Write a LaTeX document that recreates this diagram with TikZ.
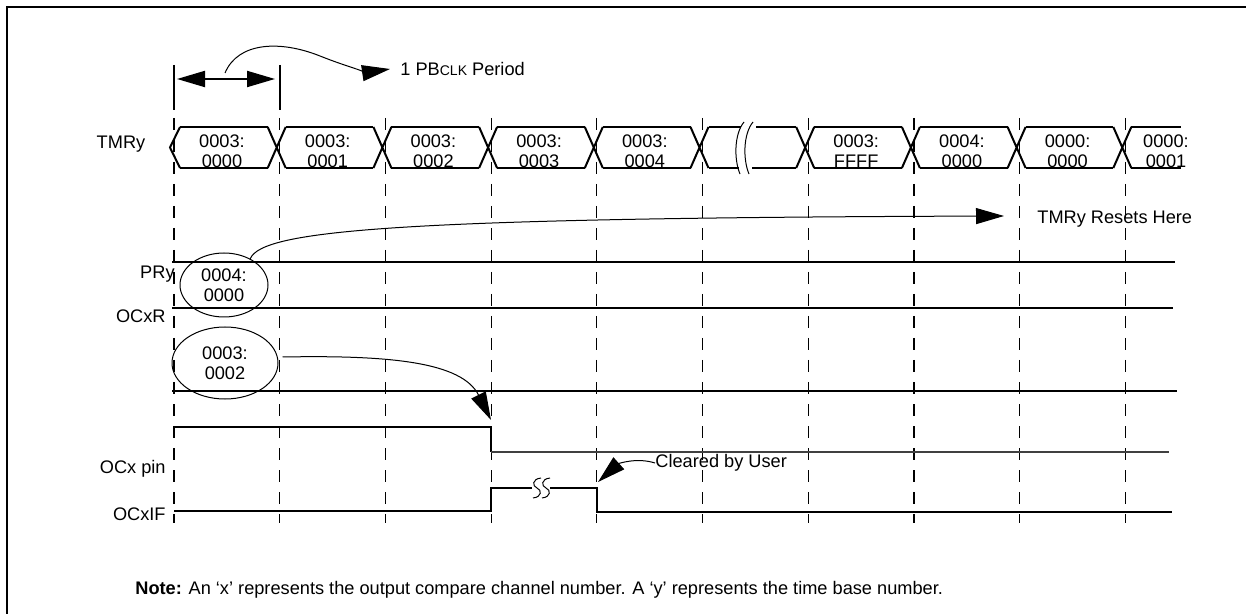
\documentclass[tikz,border=0pt]{standalone}
\usepackage{fontspec}
\setmainfont{Liberation Sans}
\usetikzlibrary{arrows.meta,positioning,shapes.geometric}

\begin{document}
\begin{tikzpicture}[x=0.5pt,y=-0.5pt,
  sig/.style={line width=1pt},
  lowsig/.style={line width=0.6pt,black!75},
  grid/.style={line width=0.6pt,dash pattern=on 6pt off 5pt},
  wire/.style={line width=0.5pt},
  txt/.style={font=\fontsize{9.1}{10}\selectfont,inner sep=0pt},
  val/.style={txt,align=center,font=\fontsize{9.1}{9.8}\selectfont},
  oval/.style={ellipse,draw,line width=0.5pt,val,inner sep=0pt},
  big/.style={wire,-{Triangle[length=14pt,width=8pt]}},
  bigboth/.style={line width=1pt,{Triangle[length=14pt,width=8pt]}-{Triangle[length=14pt,width=8pt]}}]
  \useasboundingbox (0,0) rectangle (1246,614);
  % frame
  \draw[line width=1pt] (7,614) -- (7,7) -- (1246,7);

  % clock grid
  \foreach \i in {0,...,9}
    \draw[grid] ({174+105.7*\i},118) -- ({174+105.7*\i},523);

  % period marker
  \draw[sig] (174,65) -- (174,110);
  \draw[sig] (280,65) -- (280,110);
  \coordinate (pl) at (177,79);
  \coordinate (pr) at (275,79);
  \draw[bigboth] (pl) -- (pr);
  \node[txt,anchor=west] (pb) at (400,69) {1 PB{\fontsize{7}{8}\selectfont CLK} Period};
  \coordinate (pbs) at (225,73);
  \draw[big] (pbs) .. controls (238,42) and (280,40) .. (320,56)
    .. controls (350,68) and (370,72) .. ([xshift=-5pt]pb.west);

  % row labels
  \node[txt] (ltmr) at (121,144) {TMRy};
  \node[txt,anchor=east] (lpr) at (175,274) {PRy};
  \node[txt,anchor=east] (locr) at (166,316) {OCxR};
  \node[txt,anchor=east] (lpin) at (166,469) {OCx pin};
  \node[txt,anchor=east] (lif) at (166,514) {OCxIF};

  % TMRy bus
  \draw[sig] (180,127) -- (170,147.5) -- (180,168);
  \foreach \i in {1,...,9}
    \draw[sig] ({162+105.7*\i},127) -- ({180+105.7*\i},168)
               ({162+105.7*\i},168) -- ({180+105.7*\i},127);
  \foreach \i in {0,1,2,3,4,6,7,8}
    \draw[sig] ({180+105.7*\i},127) -- ({162+105.7*(\i+1)},127)
               ({180+105.7*\i},168) -- ({162+105.7*(\i+1)},168);
  \draw[sig] ({180+105.7*9},127) -- (1181,127)
             ({180+105.7*9},168) -- (1181,168);
  \draw[sig] ({180+105.7*5},127) -- (741,127) (756,127) -- ({162+105.7*6},127)
             ({180+105.7*5},168) -- (739,168) (752,168) -- ({162+105.7*6},168);
  \draw[wire] (744,122) .. controls (734,134) and (734,160) .. (740,174)
              (753,122) .. controls (743,134) and (743,160) .. (749,174);
  \foreach \i/\hi/\lo in {0/0003/0000,1/0003/0001,2/0003/0002,3/0003/0003,
                          4/0003/0004,6/0003/FFFF,7/0004/0000,8/0000/0000}
    \node[val] (v\i) at ({222+105.7*\i},151) {\hi:\\\lo};
  \node[val] (v9) at (1166,151) {0000:\\0001};

  % PRy
  \draw[sig] (172,262) -- (1175,262);
  \draw[sig] (172,308) -- (1173,308);
  \node[oval,minimum width=44pt,minimum height=32pt] (pre) at (224,285) {0004:\\0000};
  \node[txt,anchor=west] (rst) at (1037,219) {TMRy Resets Here};
  \coordinate (rtip) at (1004,216);
  \draw[big] (pre.45) .. controls (262,230) and (400,218) .. (rtip);

  % OCxR
  \draw[sig] (172,391) -- (1177,391);
  \node[oval,minimum width=53pt,minimum height=36pt] (ocr) at (225,363) {0003:\\0002};
  \coordinate (otip) at (491,420);
  \draw[big] ([xshift=2pt,yshift=3pt]ocr.east) .. controls (390,355) and (462,362) .. (otip);

  % OCx pin
  \draw[sig] (174,427) -- (491,427) -- (491,452);
  \draw[lowsig] (491,452) -- (1169,452);

  % OCxIF
  \draw[sig] (174,511) -- (491,511) -- (491,488) -- (532,488)
             (550,488) -- (597,488) -- (597,512) -- (1172,512);
  \foreach \s in {537,546}
    \draw[wire] (\s+4,478) .. controls (\s-5,479) and (\s-5,486) .. (\s,488)
                .. controls (\s+5,490) and (\s+5,497) .. (\s-4,498);
  \node[txt,anchor=west] (clr) at (655,463) {Cleared by User};
  \coordinate (ctip) at (598,482);
  \draw[big] (clr.west) .. controls (636,457) and (618,464) .. (ctip);

  % note
  \node[txt,anchor=west] (note) at (135,590)
    {\textbf{Note:} An ‘x’ represents the output compare channel number. A ‘y’ represents the time base number.};
\end{tikzpicture}
\end{document}
